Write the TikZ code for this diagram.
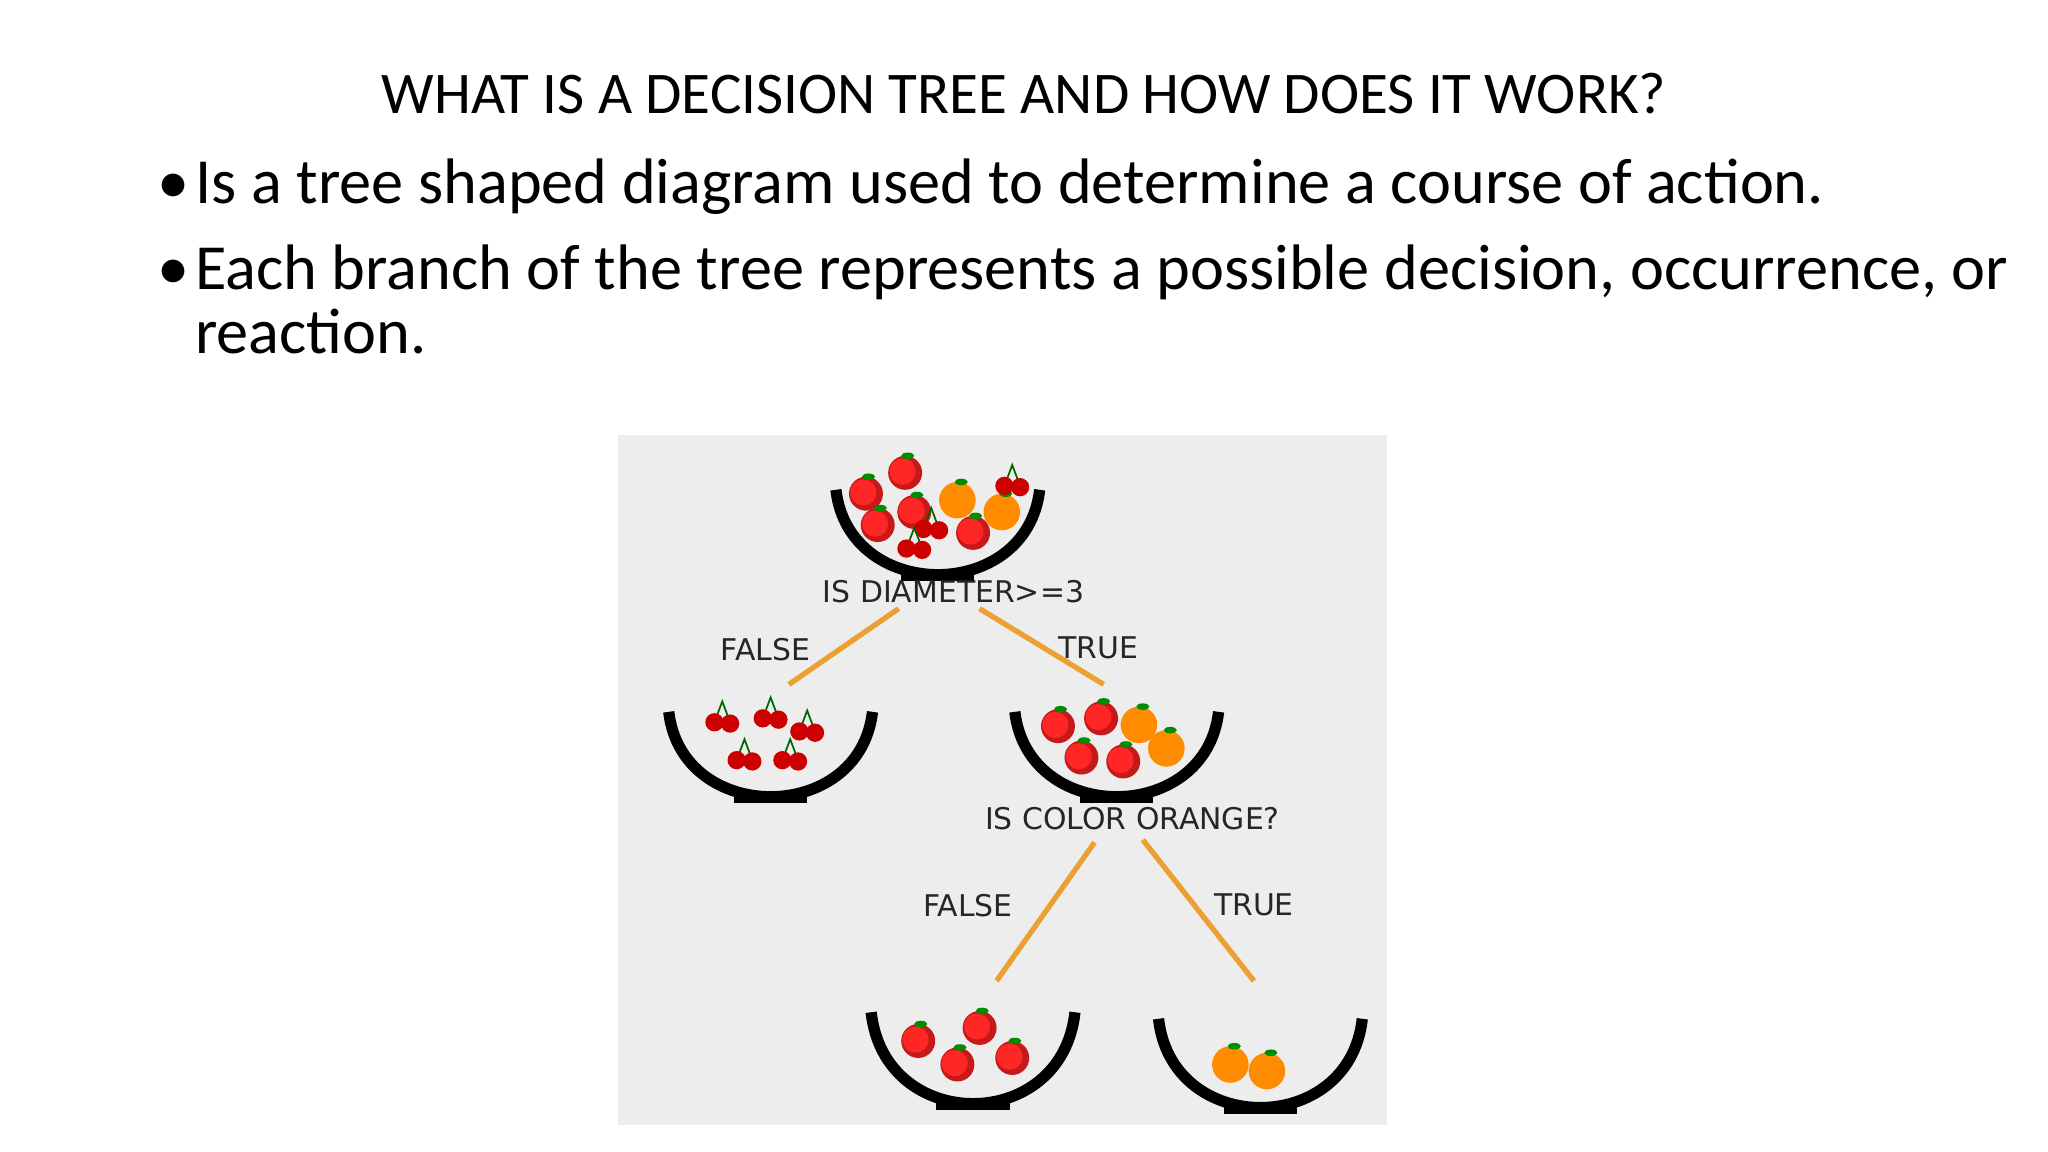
\documentclass[tikz,border=0pt]{standalone}
\usepackage{fontspec}
\setmainfont{Carlito}
\newfontfamily\lblfont{DejaVu Sans}
\begin{document}
\begin{tikzpicture}[x=0.01306cm,y=-0.01306cm,
  lbl/.style={font=\lblfont\fontsize{8.5pt}{9pt}\selectfont, text=black!85},
  branch/.style={draw={rgb,255:red,236;green,160;blue,50}, line width=1.5pt},
  bowl/.style={draw=black, line width=3.2pt},
  bul/.style={font=\fontsize{18.3pt}{22pt}\selectfont, anchor=base west, inner sep=0}]
\newcommand{\fapple}[2]{\fill[red!75!black!90] (#1,#2) circle (13);\fill[red!85] (#1-2,#2-1) circle (10);\fill[green!55!black] (#1+2,#2-13) ellipse (5 and 2.5);}
\newcommand{\forange}[2]{\fill[orange!90!yellow] (#1,#2) circle (14);\fill[green!55!black] (#1+3,#2-14) ellipse (5 and 2.5);}
\newcommand{\fcherry}[2]{\draw[green!40!black,line width=0.5pt] (#1-6,#2) -- (#1,#2-16) -- (#1+6,#2);\fill[red!80!black] (#1-6,#2) circle (7);\fill[red!80!black] (#1+6,#2+1) circle (7);}
\newcommand{\fbowl}[3]{\draw[bowl] (#1-78,#2) .. controls (#1-68,{(4*#3-#2)/3}) and (#1+68,{(4*#3-#2)/3}) .. (#1+78,#2);\fill (#1-28,#3-1) rectangle (#1+28,#3+5);}
\useasboundingbox (0,0) rectangle (1568,882);
\node[font=\fontsize{16.8pt}{20pt}\selectfont, anchor=base, inner sep=0] (title) at (784,87) {WHAT IS A DECISION TREE AND HOW DOES IT WORK?};
\node[bul] (b1) at (120,156) {•};
\node[bul] (t1) at (149,156) {Is a tree shaped diagram used to determine a course of action.};
\node[bul] (b2) at (120,222) {•};
\node[bul] (t2) at (149,222) {Each branch of the tree represents a possible decision, occurrence, or};
\node[bul] (t3) at (149,271) {reaction.};
\fill[gray!14] (473,333) rectangle (1062,861);
% bowls
\fapple{663}{378}\fapple{693}{362}\fapple{672}{402}\fapple{700}{392}\forange{733}{383}\forange{767}{392}\fapple{745}{408}\fcherry{713}{405}\fcherry{775}{372}\fcherry{700}{420}
\fbowl{718}{375}{440}
\fcherry{553}{553}\fcherry{590}{550}\fcherry{605}{582}\fcherry{570}{582}\fcherry{618}{560}
\fbowl{590}{545}{610}
\fapple{810}{556}\fapple{843}{550}\forange{872}{555}\forange{893}{573}\fapple{828}{580}\fapple{860}{583}
\fbowl{855}{545}{610}
\fapple{703}{797}\fapple{750}{787}\fapple{733}{815}\fapple{775}{810}
\fbowl{745}{775}{845}
\forange{942}{815}\forange{970}{820}
\fbowl{965}{780}{848}
% labels
\node[lbl] (q1) at (730,453) {IS DIAMETER>=3};
\node[lbl] (f1) at (586,497) {FALSE};
\node[lbl] (tr1) at (841,496) {TRUE};
\node[lbl] (q2) at (867,627) {IS COLOR ORANGE?};
\node[lbl] (f2) at (741,693) {FALSE};
\node[lbl] (tr2) at (960,693) {TRUE};
\coordinate (a1) at (688,466);\coordinate (a2) at (604,524);
\coordinate (c1) at (750,466);\coordinate (c2) at (845,524);
\coordinate (d1) at (838,645);\coordinate (d2) at (763,751);
\coordinate (e1) at (875,643);\coordinate (e2) at (960,751);
\draw[branch] (a1) -- (a2);
\draw[branch] (c1) -- (c2);
\draw[branch] (d1) -- (d2);
\draw[branch] (e1) -- (e2);
\end{tikzpicture}
\end{document}
